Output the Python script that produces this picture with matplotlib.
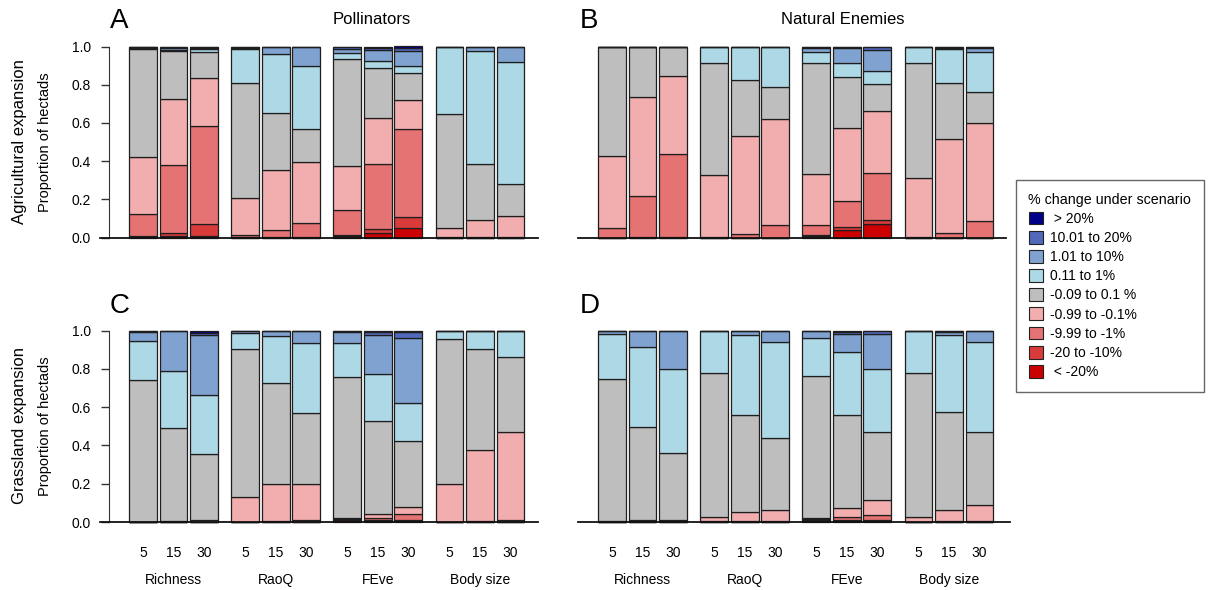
import matplotlib
matplotlib.use("Agg")
import matplotlib.pyplot as plt
from matplotlib.patches import Patch
from matplotlib.lines import Line2D
import numpy as np

# change classes, bottom of the stack first
categories = ['< -20%', '-20 to -10%', '-9.99 to -1%', '-0.99 to -0.1%', '-0.09 to 0.1 %',
              '0.11 to 1%', '1.01 to 10%', '10.01 to 20%', '> 20%']
legendLabels = [' < -20%', '-20 to -10%', '-9.99 to -1%', '-0.99 to -0.1%', '-0.09 to 0.1 %',
                '0.11 to 1%', '1.01 to 10%', '10.01 to 20%', ' > 20%']
colors = ['#cc0000', '#d93b3b', '#e57373', '#f2aeae', '#bebebe',
          '#add8e6', '#7fa2d0', '#5169bb', '#00008b']

groups = ['Richness', 'RaoQ', 'FEve', 'Body size']
scales = ['5', '15', '30']

# proportion of hectads per class, one row per bar (4 metrics x 3 scales)
pollAgri = [
    [0.005, 0.005, 0.112, 0.300, 0.565, 0.004, 0.004, 0.003, 0.002],
    [0.008, 0.014, 0.357, 0.348, 0.250, 0.006, 0.007, 0.006, 0.004],
    [0.008, 0.065, 0.510, 0.254, 0.135, 0.014, 0.008, 0.004, 0.002],
    [0.000, 0.002, 0.013, 0.190, 0.605, 0.176, 0.008, 0.004, 0.002],
    [0.000, 0.003, 0.035, 0.313, 0.303, 0.309, 0.035, 0.002, 0.000],
    [0.000, 0.002, 0.075, 0.318, 0.174, 0.330, 0.099, 0.002, 0.000],
    [0.008, 0.006, 0.129, 0.229, 0.565, 0.030, 0.020, 0.008, 0.005],
    [0.021, 0.026, 0.336, 0.243, 0.261, 0.035, 0.059, 0.012, 0.007],
    [0.052, 0.056, 0.459, 0.153, 0.139, 0.041, 0.074, 0.016, 0.010],
    [0.000, 0.000, 0.002, 0.050, 0.595, 0.348, 0.003, 0.002, 0.000],
    [0.000, 0.000, 0.003, 0.091, 0.289, 0.594, 0.018, 0.005, 0.000],
    [0.000, 0.000, 0.004, 0.107, 0.169, 0.637, 0.081, 0.002, 0.000],
]
enemAgri = [
    [0.000, 0.000, 0.050, 0.375, 0.575, 0.000, 0.000, 0.000, 0.000],
    [0.000, 0.002, 0.214, 0.520, 0.259, 0.003, 0.002, 0.000, 0.000],
    [0.000, 0.002, 0.434, 0.412, 0.147, 0.003, 0.002, 0.000, 0.000],
    [0.000, 0.000, 0.003, 0.323, 0.590, 0.082, 0.002, 0.000, 0.000],
    [0.000, 0.000, 0.019, 0.513, 0.293, 0.170, 0.004, 0.001, 0.000],
    [0.000, 0.000, 0.066, 0.557, 0.166, 0.206, 0.005, 0.000, 0.000],
    [0.008, 0.004, 0.054, 0.266, 0.581, 0.056, 0.021, 0.006, 0.004],
    [0.038, 0.016, 0.136, 0.384, 0.264, 0.078, 0.075, 0.006, 0.003],
    [0.073, 0.019, 0.248, 0.321, 0.142, 0.071, 0.109, 0.012, 0.005],
    [0.000, 0.000, 0.002, 0.309, 0.602, 0.085, 0.002, 0.000, 0.000],
    [0.000, 0.000, 0.024, 0.494, 0.290, 0.178, 0.008, 0.004, 0.002],
    [0.000, 0.000, 0.084, 0.515, 0.162, 0.208, 0.025, 0.004, 0.002],
]
pollGrass = [
    [0.000, 0.000, 0.000, 0.002, 0.737, 0.205, 0.050, 0.004, 0.002],
    [0.000, 0.000, 0.000, 0.004, 0.485, 0.302, 0.205, 0.003, 0.001],
    [0.000, 0.000, 0.002, 0.008, 0.345, 0.309, 0.310, 0.014, 0.012],
    [0.000, 0.000, 0.002, 0.128, 0.774, 0.082, 0.010, 0.004, 0.000],
    [0.000, 0.000, 0.003, 0.197, 0.527, 0.242, 0.029, 0.002, 0.000],
    [0.000, 0.000, 0.012, 0.185, 0.373, 0.366, 0.062, 0.002, 0.000],
    [0.008, 0.005, 0.004, 0.002, 0.738, 0.177, 0.060, 0.004, 0.002],
    [0.004, 0.008, 0.011, 0.020, 0.482, 0.249, 0.205, 0.014, 0.007],
    [0.005, 0.007, 0.028, 0.038, 0.345, 0.200, 0.337, 0.030, 0.010],
    [0.000, 0.000, 0.000, 0.197, 0.760, 0.043, 0.000, 0.000, 0.000],
    [0.000, 0.000, 0.003, 0.374, 0.527, 0.096, 0.000, 0.000, 0.000],
    [0.000, 0.000, 0.010, 0.461, 0.390, 0.139, 0.000, 0.000, 0.000],
]
enemGrass = [
    [0.000, 0.000, 0.002, 0.002, 0.743, 0.236, 0.012, 0.005, 0.000],
    [0.000, 0.000, 0.003, 0.007, 0.487, 0.416, 0.085, 0.002, 0.000],
    [0.000, 0.000, 0.003, 0.007, 0.349, 0.441, 0.198, 0.002, 0.000],
    [0.000, 0.000, 0.003, 0.023, 0.753, 0.216, 0.004, 0.001, 0.000],
    [0.000, 0.000, 0.004, 0.048, 0.509, 0.418, 0.017, 0.004, 0.000],
    [0.000, 0.000, 0.004, 0.057, 0.380, 0.500, 0.057, 0.002, 0.000],
    [0.004, 0.004, 0.008, 0.003, 0.742, 0.201, 0.033, 0.004, 0.001],
    [0.004, 0.006, 0.014, 0.047, 0.486, 0.331, 0.096, 0.010, 0.006],
    [0.004, 0.006, 0.028, 0.079, 0.352, 0.331, 0.183, 0.012, 0.005],
    [0.000, 0.000, 0.002, 0.026, 0.749, 0.218, 0.005, 0.000, 0.000],
    [0.000, 0.000, 0.004, 0.060, 0.509, 0.406, 0.015, 0.006, 0.000],
    [0.000, 0.000, 0.004, 0.085, 0.380, 0.472, 0.057, 0.002, 0.000],
]

W, H = 1209, 590
GROUP_STEP = 3.35


def pxAxes(fig, left, right, yZero, yOne):
    return fig.add_axes([left / W, 1 - yZero / H, (right - left) / W, (yZero - yOne) / H])


def drawPanel(ax, rows, xlim, showY, showX):
    data = np.array(rows)
    xpos = np.array([g * GROUP_STEP + i for g in range(len(groups)) for i in range(len(scales))])
    bottom = np.zeros(len(xpos))
    for k in range(len(categories)):
        ax.bar(xpos, data[:, k], bottom=bottom, width=0.91, color=colors[k],
               edgecolor='#1e1e1e', linewidth=0.9, clip_on=False, zorder=2)
        bottom += data[:, k]

    ax.set_xlim(xlim)
    ax.set_ylim(0, 1)
    ax.spines['top'].set_visible(False)
    ax.spines['right'].set_visible(False)
    ax.spines['bottom'].set_linewidth(1.3)
    ax.spines['bottom'].set_color('#111111')

    if showY:
        ax.spines['left'].set_position(('data', -1.12))
        ax.spines['left'].set_bounds(0, 1)
        ax.spines['left'].set_color('#333333')
        ax.set_yticks(np.arange(0, 1.01, 0.2))
        ax.set_yticklabels(['{:.1f}'.format(v) for v in np.arange(0, 1.01, 0.2)])
        ax.tick_params(axis='y', length=6, width=1, color='#333333', pad=7, labelsize=10)
    else:
        ax.spines['left'].set_visible(False)
        ax.set_yticks([])

    if showX:
        ax.set_xticks(xpos)
        ax.set_xticklabels(scales * len(groups))
        ax.tick_params(axis='x', length=0, pad=17, labelsize=10)
        for g, name in enumerate(groups):
            ax.text(g * GROUP_STEP + 1, -0.305, name, transform=ax.get_xaxis_transform(),
                    ha='center', va='center', fontsize=10)
    else:
        ax.set_xticks([])


def main():
    plt.rcParams['font.family'] = ['Liberation Sans', 'DejaVu Sans']
    fig = plt.figure(figsize=(W / 100, H / 100), dpi=100)

    axA = pxAxes(fig, 100, 538, 237.5, 46.5)
    axB = pxAxes(fig, 578, 1006, 237.5, 46.5)
    axC = pxAxes(fig, 100, 538, 522, 330.5)
    axD = pxAxes(fig, 578, 1010, 522, 330.5)

    drawPanel(axA, pollAgri, (-1.41, 12.95), True, False)
    drawPanel(axB, enemAgri, (-1.115, 12.92), False, False)
    drawPanel(axC, pollGrass, (-1.41, 12.95), True, True)
    drawPanel(axD, enemGrass, (-1.115, 13.05), False, True)

    # panel letters and column titles
    fig.text(110 / W, 1 - 21 / H, 'A', fontsize=20, ha='left', va='center')
    fig.text(580 / W, 1 - 21 / H, 'B', fontsize=20, ha='left', va='center')
    fig.text(110 / W, 1 - 306 / H, 'C', fontsize=20, ha='left', va='center')
    fig.text(580 / W, 1 - 306 / H, 'D', fontsize=20, ha='left', va='center')
    fig.text(372 / W, 1 - 20 / H, 'Pollinators', fontsize=12, ha='center', va='center')
    fig.text(843 / W, 1 - 20 / H, 'Natural Enemies', fontsize=12, ha='center', va='center')

    # row labels
    fig.text(20 / W, 1 - 142 / H, 'Agricultural expansion', fontsize=12, rotation=90,
             ha='center', va='center')
    fig.text(45 / W, 1 - 142 / H, 'Proportion of hectads', fontsize=10.5, rotation=90,
             ha='center', va='center')
    fig.text(20 / W, 1 - 426 / H, 'Grassland expansion', fontsize=12, rotation=90,
             ha='center', va='center')
    fig.text(45 / W, 1 - 426 / H, 'Proportion of hectads', fontsize=10.5, rotation=90,
             ha='center', va='center')

    handles = [Patch(facecolor=colors[k], edgecolor='#222222', linewidth=0.8)
               for k in reversed(range(len(categories)))]
    leg = fig.legend(handles, list(reversed(legendLabels)), loc='upper left',
                     bbox_to_anchor=(1016 / W, 1 - 180 / H), borderaxespad=0, fontsize=10,
                     title='% change under scenario', title_fontsize=10.3, alignment='left',
                     handlelength=1.05, handleheight=1.05, handletextpad=0.5,
                     labelspacing=0.36, borderpad=0.9, fancybox=False, framealpha=1)
    leg.get_frame().set_edgecolor('#666666')
    leg.get_frame().set_linewidth(1.0)

    # underline the legend title
    fig.canvas.draw()
    bb = leg.get_title().get_window_extent().transformed(fig.transFigure.inverted())
    fig.add_artist(Line2D([bb.x0, bb.x1], [bb.y0 + 0.5 / H, bb.y0 + 0.5 / H],
                          transform=fig.transFigure, color='black', linewidth=0.8))

    fig.savefig('out.png', dpi=100)


if __name__ == '__main__':
    main()
